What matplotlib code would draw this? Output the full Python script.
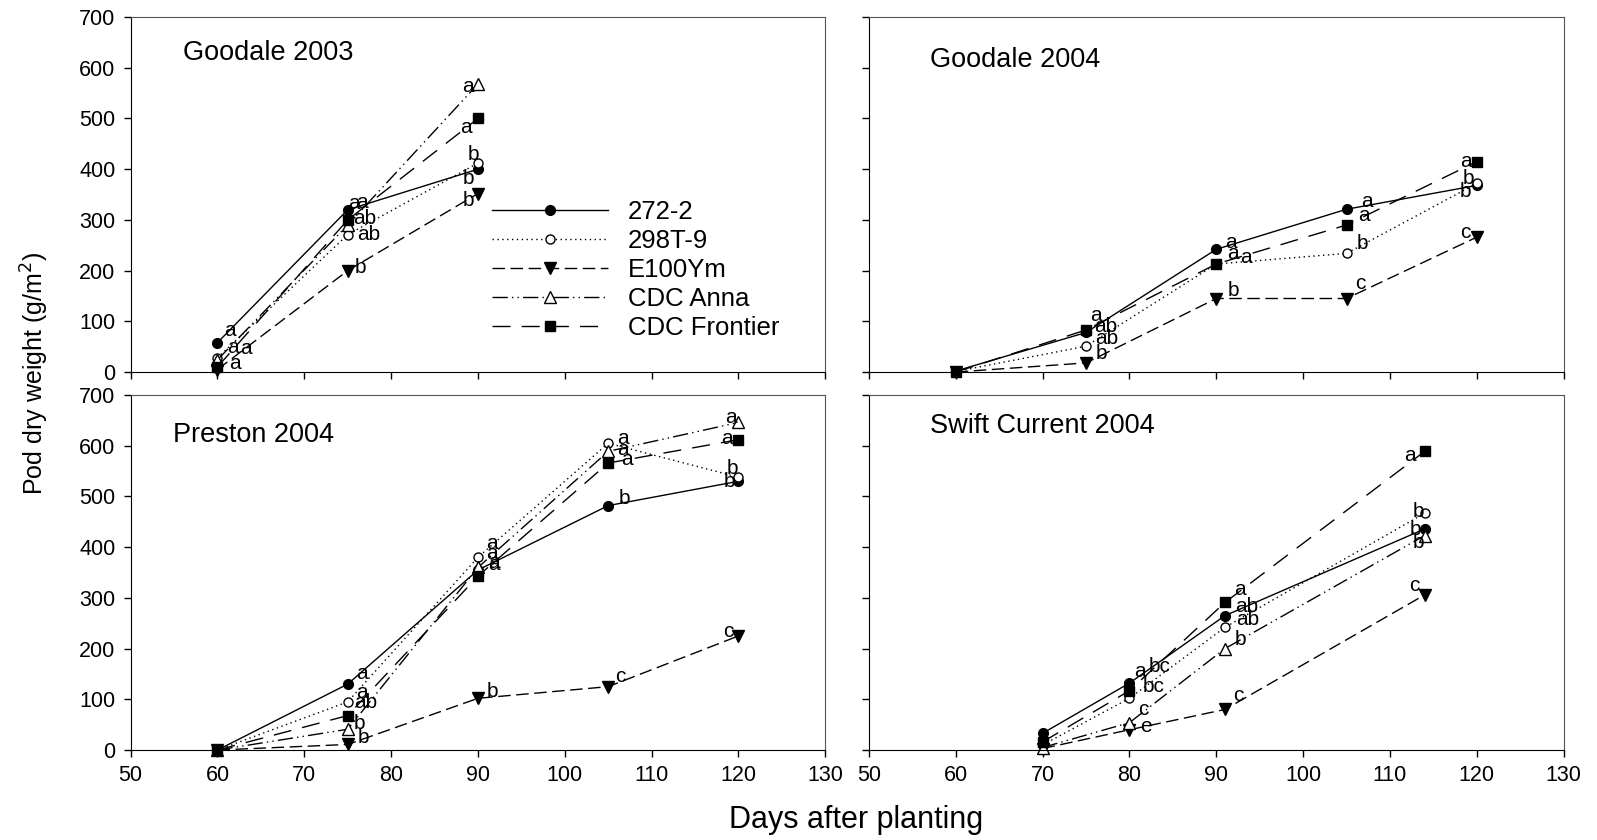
import matplotlib
matplotlib.use("Agg")
import matplotlib.pyplot as plt

plt.rcParams['font.family'] = ['Liberation Sans', 'DejaVu Sans']

series = ['272-2', '298T-9', 'E100Ym', 'CDC Anna', 'CDC Frontier']

# Goodale 2003
days_g03 = [60, 75, 90]
weight_g03 = {
    '272-2': [58, 320, 400],
    '298T-9': [28, 271, 412],
    'E100Ym': [5, 200, 352],
    'CDC Anna': [24, 290, 568],
    'CDC Frontier': [10, 300, 500],
}
letters_g03 = {
    '272-2': ['a', 'a', 'b'],
    '298T-9': ['a', 'ab', 'b'],
    'E100Ym': [None, 'b', 'b'],
    'CDC Anna': ['a', 'a', 'a'],
    'CDC Frontier': ['a', 'ab', 'a'],
}

# Goodale 2004 (no CDC Anna)
days_g04 = [60, 75, 90, 105, 120]
weight_g04 = {
    '272-2': [2, 78, 242, 321, 368],
    '298T-9': [1, 51, 213, 234, 372],
    'E100Ym': [0, 18, 145, 145, 266],
    'CDC Frontier': [0, 83, 213, 290, 415],
}
letters_g04 = {
    '272-2': [None, 'ab', 'a', 'a', 'b'],
    '298T-9': [None, 'ab', 'a', 'b', 'b'],
    'E100Ym': [None, 'b', 'b', 'c', 'c'],
    'CDC Frontier': [None, 'a', 'a', 'a', 'a'],
}

# Preston 2004
days_p04 = [60, 75, 90, 105, 120]
weight_p04 = {
    '272-2': [0, 130, 355, 482, 530],
    '298T-9': [0, 95, 380, 605, 538],
    'E100Ym': [0, 11, 102, 125, 225],
    'CDC Anna': [0, 41, 360, 589, 646],
    'CDC Frontier': [0, 68, 343, 566, 612],
}
letters_p04 = {
    '272-2': [None, 'a', 'a', 'b', 'b'],
    '298T-9': [None, 'a', 'a', 'a', 'b'],
    'E100Ym': [None, 'b', 'b', 'c', 'c'],
    'CDC Anna': [None, 'b', 'a', 'a', 'a'],
    'CDC Frontier': [None, 'ab', 'a', 'a', 'a'],
}

# Swift Current 2004
days_s04 = [70, 80, 91, 114]
weight_s04 = {
    '272-2': [33, 132, 265, 436],
    '298T-9': [10, 102, 242, 467],
    'E100Ym': [3, 40, 80, 306],
    'CDC Anna': [5, 54, 200, 423],
    'CDC Frontier': [16, 117, 291, 589],
}
letters_s04 = {
    '272-2': [None, 'a', 'ab', 'b'],
    '298T-9': [None, 'bc', 'ab', 'b'],
    'E100Ym': [None, 'e', 'c', 'c'],
    'CDC Anna': [None, 'c', 'b', 'b'],
    'CDC Frontier': [None, 'bc', 'a', 'a'],
}

# letter offsets from the marker, in pixels
off_g03 = {
    '272-2': [(12, 12), (6, 6), (-10, -9)],
    '298T-9': [(15, 10), (21, 0), (-5, 9)],
    'E100Ym': [None, (13, 3), (-10, -7)],
    'CDC Anna': [(28, 11), (14, 22), (-10, -3)],
    'CDC Frontier': [(17, 3), (17, 1), (-12, -9)],
}
off_g04 = {
    '272-2': [None, (20, 6), (15, 7), (20, 8), (-11, -6)],
    '298T-9': [None, (21, 8), (30, 7), (16, 10), (-8, 5)],
    'E100Ym': [None, (15, 9), (17, 8), (14, 15), (-11, 5)],
    'CDC Frontier': [None, (10, 14), (17, 11), (17, 9), (-11, 0)],
}
off_p04 = {
    '272-2': [None, (14, 11), (16, 6), (16, 7), (-9, 0)],
    '298T-9': [None, (14, 9), (14, 14), (15, 5), (-6, 9)],
    'E100Ym': [None, (16, 7), (14, 7), (12, 10), (-10, 4)],
    'CDC Anna': [None, (12, 6), (14, 14), (15, 2), (-8, 5)],
    'CDC Frontier': [None, (18, 13), (16, 14), (19, 4), (-12, 1)],
}
off_s04 = {
    '272-2': [None, (10, 12), (22, 9), (-9, -1)],
    '298T-9': [None, (24, 12), (23, 8), (-6, 2)],
    'E100Ym': [None, (16, 3), (13, 14), (-10, 9)],
    'CDC Anna': [None, (14, 13), (15, 9), (-6, -7)],
    'CDC Frontier': [None, (30, 24), (15, 13), (-15, -4)],
}

styles = {
    '272-2': dict(linestyle='-', marker='o', ms=7, mfc='black'),
    '298T-9': dict(linestyle=(0, (1, 2.5)), marker='o', ms=6.5, mfc='white'),
    'E100Ym': dict(linestyle=(0, (9, 4)), marker='v', ms=8, mfc='black'),
    'CDC Anna': dict(linestyle=(0, (11, 3, 1, 3, 1, 3)), marker='^', ms=8, mfc='white'),
    'CDC Frontier': dict(linestyle=(0, (13, 8)), marker='s', ms=6.5, mfc='black'),
}


def draw_panel(ax, days, weights, letters, offsets, title, tx, ty):
    for name in series:
        if name not in weights:
            continue
        st = styles[name]
        ax.plot(days, weights[name], color='black', lw=1, linestyle=st['linestyle'],
                marker=st['marker'], ms=st['ms'], mfc=st['mfc'], mec='black',
                mew=1, label=name, clip_on=False)
        for x, y, lt, off in zip(days, weights[name], letters[name], offsets[name]):
            if lt is None:
                continue
            ax.annotate(lt, (x, y), xytext=off, textcoords='offset pixels',
                        ha='center', va='center', fontsize=15)
    ax.text(tx, ty, title, transform=ax.transAxes, fontsize=19.5,
            ha='left', va='center')
    ax.set_xlim(50, 130)
    ax.set_ylim(0, 700)
    ax.set_xticks(range(50, 131, 10))
    ax.set_yticks(range(0, 701, 100))
    ax.tick_params(direction='out', length=5, width=1, labelsize=15.5, pad=6)
    for side in ['top', 'right']:
        ax.spines[side].set_color('#555555')


fig = plt.figure(figsize=(15.97, 8.4), dpi=100)
lx, rx, w = 0.0818, 0.5441, 0.4350
tb, bb, h = 0.5571, 0.1071, 0.4226

ax1 = fig.add_axes([lx, tb, w, h])
ax2 = fig.add_axes([rx, tb, w, h])
ax3 = fig.add_axes([lx, bb, w, h])
ax4 = fig.add_axes([rx, bb, w, h])

draw_panel(ax1, days_g03, weight_g03, letters_g03, off_g03, 'Goodale 2003', 0.076, 0.9)
draw_panel(ax2, days_g04, weight_g04, letters_g04, off_g04, 'Goodale 2004', 0.088, 0.88)
draw_panel(ax3, days_p04, weight_p04, letters_p04, off_p04, 'Preston 2004', 0.061, 0.887)
draw_panel(ax4, days_s04, weight_s04, letters_s04, off_s04, 'Swift Current 2004', 0.088, 0.913)

ax1.tick_params(labelbottom=False)
ax2.tick_params(labelbottom=False, labelleft=False)
ax4.tick_params(labelleft=False)

ax1.legend(loc='upper left', bbox_to_anchor=(0.52, 0.485), frameon=False,
           fontsize=18.5, handlelength=4.5, handletextpad=0.8, labelspacing=0.2,
           numpoints=1, borderpad=0, borderaxespad=0)

fig.text(0.022, 0.555, 'Pod dry weight (g/m$^2$)', rotation=90,
         ha='center', va='center', fontsize=18)
fig.text(0.536, 0.024, 'Days after planting', ha='center', va='center', fontsize=22)

fig.savefig('out.png', dpi=100)
